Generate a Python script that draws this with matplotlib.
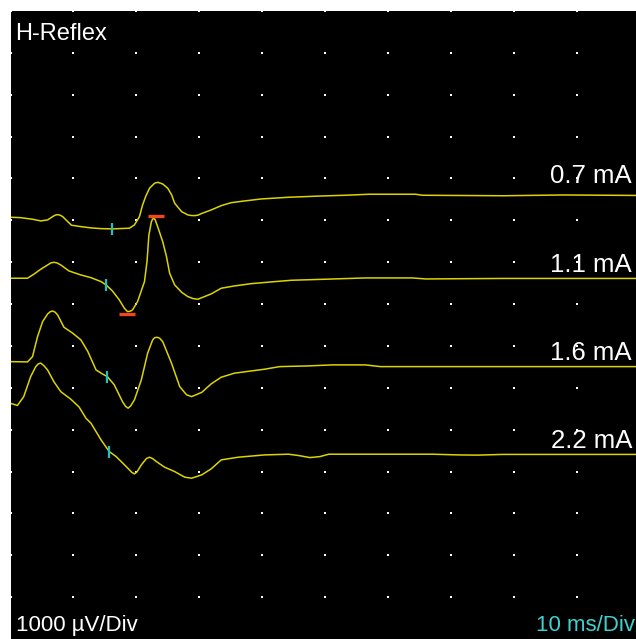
import numpy as np
import matplotlib.pyplot as plt

plt.rcParams['font.family'] = ['Liberation Sans', 'DejaVu Sans']

# --- Trace data: time (ms) and amplitude (uV, relative to each trace's baseline) ---
stim_labels = ['0.7 mA', '1.1 mA', '1.6 mA', '2.2 mA']
trace_offsets = [-4406, -6388, -8494, -10591]

t_07 = [0, 1.6, 3.5, 4.8, 5.9, 6.7, 7.1, 7.5, 7.9, 8.3, 9.1, 9.7, 11.2, 12.8,
        14.4, 16.2, 18.9, 19.7, 20.5, 21.0, 21.5, 22.1, 22.9, 23.4, 24.2, 25.0,
        25.6, 26.1, 27.2, 28.2, 28.7, 29.3, 29.8, 30.4, 31.9, 33.5, 35.1, 37.2,
        39.9, 44.2, 49.5, 53.2, 57.0, 64.4, 65.5, 78.3, 87.9, 100]
v_07 = [-520, -530, -568, -608, -584, -506, -470, -458, -472, -506, -625, -711,
        -744, -775, -792, -799, -782, -704, -506, -227, -20, 172, 291, 315, 274,
        172, 20, -186, -386, -465, -478, -482, -470, -430, -346, -243, -172,
        -131, -83, -43, -12, 5, 29, 29, 5, -7, 12, 0]

t_11 = [0, 2.7, 3.7, 4.8, 5.9, 6.4, 6.9, 7.4, 8.0, 9.3, 11.2, 12.8, 14.4, 15.2,
        16.2, 17.3, 18.1, 18.6, 19.0, 19.4, 20.2, 21.3, 21.7, 22.0, 22.4, 22.6,
        22.8, 23.0, 23.4, 24.2, 24.8, 25.3, 26.1, 27.2, 28.2, 29.0, 29.8, 31.9,
        33.5, 35.6, 38.3, 42.0, 44.7, 50.0, 56.4, 63.9, 66.0, 78.3, 100]
v_11 = [5, 5, 100, 219, 322, 370, 386, 370, 322, 179, 83, 19, -76, -155, -298,
        -513, -711, -792, -785, -751, -553, -76, 401, 1037, 1355, 1420, 1436,
        1400, 1235, 878, 520, 124, -155, -329, -434, -480, -496, -370, -234,
        -179, -124, -76, -43, -19, 12, 12, -12, 0, 0]

t_16 = [0, 2.7, 3.5, 4.3, 5.1, 5.9, 6.3, 6.7, 7.1, 7.5, 8.5, 9.9, 11.2, 12.3,
        13.6, 14.6, 15.4, 16.5, 17.8, 18.3, 18.7, 19.1, 19.7, 20.8, 21.8, 22.6,
        22.9, 23.3, 23.7, 24.2, 25.6, 26.9, 28.0, 28.8, 30.4, 31.9, 33.5, 35.6,
        38.3, 40.4, 42.8, 47.4, 51.1, 56.4, 58.8, 100]
v_16 = [119, 112, 238, 716, 1073, 1257, 1310, 1328, 1300, 1233, 940, 797, 637,
        358, -79, -174, -239, -436, -835, -950, -992, -940, -794, -317, 320,
        637, 690, 701, 680, 596, 81, -477, -675, -716, -615, -413, -253, -157,
        -103, -62, 0, 17, 41, 41, 0, 0]

t_22 = [0, 1.1, 2.1, 3.2, 4.0, 4.4, 4.8, 5.3, 5.9, 6.9, 8.0, 9.6, 10.9, 12.0,
        12.8, 14.4, 15.7, 16.8, 18.4, 19.3, 19.7, 20.1, 20.8, 21.6, 22.1, 22.6,
        23.2, 24.5, 26.1, 27.7, 28.8, 30.4, 31.9, 33.5, 36.2, 40.4, 44.2, 45.9,
        47.6, 49.2, 50.6, 67.1, 71.1, 74.3, 78.3, 100]
v_22 = [1221, 1169, 1379, 1856, 2094, 2160, 2182, 2120, 2015, 1736, 1498, 1317,
        1133, 863, 744, 346, 67, -52, -291, -430, -465, -420, -250, -100, -67,
        -100, -172, -305, -410, -544, -568, -489, -346, -131, -67, -12, 5, -29,
        -76, -52, 5, 5, -12, -17, 0, 0]

traces = [(t_07, v_07), (t_11, v_11), (t_16, v_16), (t_22, v_22)]

# Latency cursors (ms) and the M/H amplitude cursors on the 1.1 mA sweep
onset_ms = [16.2, 15.2, 15.4, 15.7]
peak_cursor = (23.1, 1480)
trough_cursor = (18.6, -860)

# label baselines (uV) above each sweep
label_y = [-4114, -6226, -8334, -10428]

# --- Figure ---
fig = plt.figure(figsize=(6.36, 6.39), dpi=100, facecolor='white')
ax = fig.add_axes([10.5 / 636, 0, 629 / 636, 628 / 639])
ax.set_facecolor('black')
ax.set_xlim(0, 100)
ax.set_ylim(-15000, 0)
for s in ax.spines.values():
    s.set_visible(False)
ax.set_xticks([])
ax.set_yticks([])

# dotted division grid
gx, gy = np.meshgrid(np.arange(0, 100, 10), np.arange(0, -15000, -1000))
ax.scatter(gx.ravel(), gy.ravel(), s=2.5, color='white', marker='s',
           linewidths=0, clip_on=False, zorder=1)

trace_color = '#dcd400'
for (t, v), off, onset in zip(traces, trace_offsets, onset_ms):
    y = np.array(v) + off
    ax.plot(t, y, color=trace_color, lw=1.1, zorder=2,
            solid_joinstyle='round')
    ax.plot([onset], [np.interp(onset, t, y)], marker='|', ms=8,
            mew=1.6, color='#20c0c0', zorder=3)

# amplitude cursors on the 1.1 mA sweep
for cx, cy in [peak_cursor, trough_cursor]:
    ax.plot([cx], [cy + trace_offsets[1]], marker='_', ms=12, mew=2.4,
            color='#f04818', zorder=3)

for lab, ly in zip(stim_labels, label_y):
    ax.text(98.8, ly, lab, color='white', fontsize=18.5, ha='right',
            va='baseline')

fig.text(15 / 636, 1 - 40 / 639, 'H-Reflex', color='white', fontsize=17,
         ha='left', va='baseline')
fig.text(16 / 636, 1 - 631 / 639, '1000 \u00b5V/Div', color='white',
         fontsize=16, ha='left', va='baseline')
fig.text(635 / 636, 1 - 631 / 639, '10 ms/Div', color='#40d0d0',
         fontsize=16, ha='right', va='baseline')

fig.savefig('out.png', dpi=100, facecolor='white')
